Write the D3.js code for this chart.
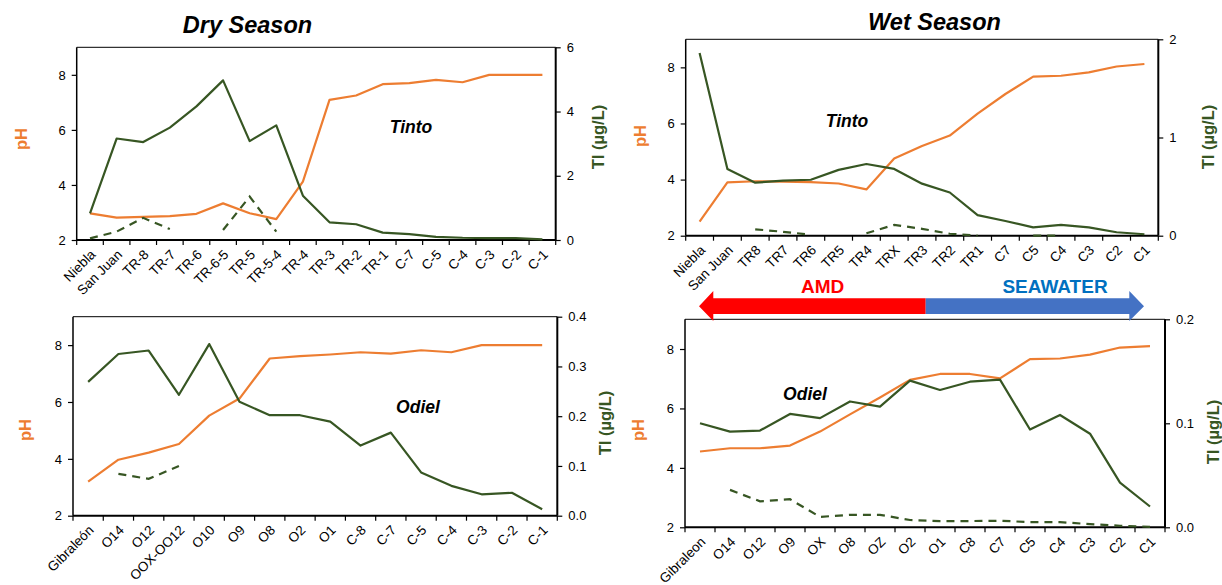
<!DOCTYPE html>
<html><head><meta charset="utf-8">
<script src="https://cdn.jsdelivr.net/npm/d3@7"></script>
<style>
body{margin:0;background:#fff;}
svg{display:block;font-family:"Liberation Sans",Arial,sans-serif;}
</style></head>
<body>
<svg id="c" width="1222" height="585"></svg>
<script>
// ---- Data ----
const dryTintoCats = ["Niebla","San Juan","TR-8","TR-7","TR-6","TR-6-5","TR-5","TR-5-4","TR-4","TR-3","TR-2","TR-1","C-7","C-5","C-4","C-3","C-2","C-1"];
const dryTintoPH   = [2.97,2.81,2.84,2.87,2.95,3.33,2.97,2.76,4.12,7.09,7.25,7.66,7.70,7.82,7.73,8.0,8.0,8.0];
const dryTintoTl   = [0.83,3.16,3.05,3.50,4.16,4.97,3.08,3.57,1.38,0.55,0.49,0.23,0.18,0.10,0.07,0.06,0.06,0.02];
const dryTintoTlD  = [0.05,0.26,0.69,0.34,null,0.31,1.35,0.26,null,null,null,null,null,null,null,null,null,null];

const wetTintoCats = ["Niebla","San Juan","TR8","TR7","TR6","TR5","TR4","TRX","TR3","TR2","TR1","C7","C5","C4","C3","C2","C1"];
const wetTintoPH   = [2.5,3.9,3.94,3.93,3.91,3.86,3.65,4.75,5.2,5.57,6.35,7.05,7.67,7.70,7.82,8.03,8.12];
const wetTintoTl   = [1.86,0.68,0.54,0.56,0.57,0.67,0.73,0.68,0.53,0.44,0.21,0.15,0.085,0.11,0.085,0.035,0.015];
const wetTintoTlD  = [null,null,0.065,0.04,0.01,null,0.025,0.11,0.07,0.02,0.0,null,0.0,0.0,null,null,null];

const dryOdielCats = ["Gibraleón","O14","O12","OOX-OO12","O10","O9","O8","O2","O1","C-8","C-7","C-5","C-4","C-3","C-2","C-1"];
const dryOdielPH   = [3.2,3.97,4.22,4.52,5.52,6.12,7.53,7.61,7.67,7.75,7.70,7.82,7.75,8.0,8.0,8.0];
const dryOdielTl   = [0.269,0.325,0.332,0.243,0.345,0.229,0.202,0.202,0.189,0.141,0.167,0.087,0.060,0.043,0.046,0.013];
const dryOdielTlD  = [null,0.084,0.074,0.100,null,null,null,null,null,null,null,null,null,null,null,null];

const wetOdielCats = ["Gibraleon","O14","O12","O9","OX","O8","OZ","O2","O1","C8","C7","C5","C4","C3","C2","C1"];
const wetOdielPH   = [4.55,4.66,4.66,4.75,5.22,5.80,6.37,6.96,7.16,7.16,7.01,7.66,7.68,7.81,8.05,8.10];
const wetOdielTl   = [0.100,0.092,0.093,0.109,0.105,0.121,0.116,0.141,0.132,0.140,0.142,0.094,0.108,0.090,0.043,0.020];
const wetOdielTlD  = [null,0.036,0.025,0.027,0.010,0.012,0.012,0.007,0.006,0.006,0.0063,0.005,0.005,0.003,0.0015,0.0005];

const phTicks = [2,4,6,8];
const tlTicksTop1 = [0,2,4,6];
const tlTicksTop2 = [0,1,2];
const tlTicksBot1 = [0,0.1,0.2,0.3,0.4];
const tlTicksBot2 = [0,0.1,0.2];

const titles = ["Dry Season","Wet Season"];
const rivers = ["Tinto","Odiel"];
const arrowLabels = ["AMD","SEAWATER"];

// ---- Styles ----
const ORANGE = "#ED7D31", GREEN = "#375623";
const svg = d3.select("#c");

function panel(o){
  const g = svg.append("g");
  const x = d3.scaleBand().domain(o.cats).range([o.left,o.right]);
  const yL = d3.scaleLinear().domain([2,9]).range([o.bottom,o.top]);
  const yR = d3.scaleLinear().domain(o.tlDomain).range([o.bottom,o.top]);

  g.append("line").attr("x1",o.left).attr("x2",o.right).attr("y1",o.top).attr("y2",o.top)
    .attr("stroke","#000").attr("stroke-width",1);

  const la = g.append("g").attr("transform",`translate(${o.left},0)`)
    .call(d3.axisLeft(yL).tickValues(phTicks).tickSize(5).tickPadding(6).tickFormat(d3.format("d")));
  la.select(".domain").remove();
  la.append("line").attr("x1",0).attr("x2",0).attr("y1",o.top).attr("y2",o.bottom).attr("stroke","#000").attr("stroke-width",1.5);
  la.selectAll("text").attr("font-size",13).attr("fill","#000").attr("font-family","Liberation Sans, Arial, sans-serif");
  la.selectAll(".tick line").attr("stroke","#000").attr("stroke-width",1.2);

  const ra = g.append("g").attr("transform",`translate(${o.right},0)`)
    .call(d3.axisRight(yR).tickValues(o.tlTicks).tickSize(5).tickPadding(6).tickFormat(d3.format(o.tlFmt)));
  ra.select(".domain").remove();
  ra.append("line").attr("x1",0).attr("x2",0).attr("y1",o.top).attr("y2",o.bottom).attr("stroke","#000").attr("stroke-width",2);
  ra.selectAll("text").attr("font-size",13).attr("fill","#000").attr("font-family","Liberation Sans, Arial, sans-serif");
  ra.selectAll(".tick line").attr("stroke","#000").attr("stroke-width",1.2);

  const ba = g.append("g").attr("transform",`translate(0,${o.bottom})`);
  ba.append("line").attr("x1",o.left).attr("x2",o.right).attr("y1",0).attr("y2",0).attr("stroke","#000").attr("stroke-width",2);
  const bounds = o.cats.map(c=>x(c)).concat([o.right]);
  ba.selectAll("line.tk").data(bounds).join("line").attr("class","tk")
    .attr("x1",d=>d).attr("x2",d=>d).attr("y1",0).attr("y2",5).attr("stroke","#000").attr("stroke-width",1.2);
  ba.selectAll("text").data(o.cats).join("text")
    .attr("transform",d=>`translate(${x(d)+x.bandwidth()/2+3},${12}) rotate(-45)`)
    .attr("text-anchor","end").attr("dy","0.35em").attr("font-size",13.5).attr("fill","#000")
    .text(d=>d);

  const cx = d=>x(d)+x.bandwidth()/2;
  const lineL = d3.line().defined(d=>d[1]!=null).x(d=>cx(d[0])).y(d=>yL(d[1]));
  const lineR = d3.line().defined(d=>d[1]!=null).x(d=>cx(d[0])).y(d=>yR(d[1]));

  g.append("path").datum(o.cats.map((c,i)=>[c,o.ph[i]])).attr("d",lineL)
    .attr("fill","none").attr("stroke",ORANGE).attr("stroke-width",2.2).attr("stroke-linejoin","round");
  g.append("path").datum(o.cats.map((c,i)=>[c,o.tl[i]])).attr("d",lineR)
    .attr("fill","none").attr("stroke",GREEN).attr("stroke-width",2.2).attr("stroke-linejoin","round");
  g.append("path").datum(o.cats.map((c,i)=>[c,o.tlD[i]])).attr("d",lineR)
    .attr("fill","none").attr("stroke",GREEN).attr("stroke-width",2.2).attr("stroke-dasharray","8,6");

  g.append("text").attr("transform",`translate(${o.phX},${o.phY}) rotate(-90)`)
    .attr("text-anchor","middle").attr("dy","0.35em").attr("font-weight","bold").attr("font-size",16.5)
    .attr("fill",ORANGE).text("pH");
  g.append("text").attr("transform",`translate(${o.tlX},${o.tlY}) rotate(-90)`)
    .attr("text-anchor","middle").attr("dy","0.35em").attr("font-weight","bold").attr("font-size",16.5)
    .attr("fill",GREEN).text("Tl (µg/L)");

  g.append("text").attr("x",o.rx).attr("y",o.ry).attr("text-anchor","middle").attr("dy","0.35em")
    .attr("font-weight","bold").attr("font-style","italic").attr("font-size",17.5).attr("fill","#000").text(o.river);
}

panel({cats:dryTintoCats,ph:dryTintoPH,tl:dryTintoTl,tlD:dryTintoTlD,left:76.7,right:555.7,top:47.3,bottom:240,
  tlDomain:[0,6],tlTicks:tlTicksTop1,tlFmt:"d",phX:21,phY:139,tlX:598,tlY:137,river:rivers[0],rx:411,ry:127});
panel({cats:wetTintoCats,ph:wetTintoPH,tl:wetTintoTl,tlD:wetTintoTlD,left:685.7,right:1158.3,top:39.3,bottom:235.7,
  tlDomain:[0,2],tlTicks:tlTicksTop2,tlFmt:"d",phX:640,phY:136,tlX:1208,tlY:137,river:rivers[0],rx:847,ry:121});
panel({cats:dryOdielCats,ph:dryOdielPH,tl:dryOdielTl,tlD:dryOdielTlD,left:73,right:557.3,top:316.7,bottom:515.7,
  tlDomain:[0,0.4],tlTicks:tlTicksBot1,tlFmt:".1f",phX:25,phY:430,tlX:605,tlY:423,river:rivers[1],rx:418,ry:407});
panel({cats:wetOdielCats,ph:wetOdielPH,tl:wetOdielTl,tlD:wetOdielTlD,left:685,right:1165,top:319.3,bottom:527.3,
  tlDomain:[0,0.2],tlTicks:tlTicksBot2,tlFmt:".1f",phX:638,phY:430,tlX:1213,tlY:432,river:rivers[1],rx:805,ry:394});

svg.append("text").attr("x",247.5).attr("y",33).attr("text-anchor","middle").attr("font-weight","bold")
  .attr("font-style","italic").attr("font-size",23.5).attr("fill","#000").text(titles[0]);
svg.append("text").attr("x",934.5).attr("y",30).attr("text-anchor","middle").attr("font-weight","bold")
  .attr("font-style","italic").attr("font-size",23.5).attr("fill","#000").text(titles[1]);

const ax = d3.scaleLinear().domain([0,1]).range([699,1144]);
const mid = 925.7, yTop = 298.3, yBot = 314, hTop = 291, hBot = 321, yMid = 306.3;
svg.append("path").attr("fill","#FF0000")
  .attr("d",`M${ax(0)},${yMid} L713.3,${hTop} L713.3,${yTop} L${mid},${yTop} L${mid},${yBot} L713.3,${yBot} L713.3,${hBot} Z`);
svg.append("path").attr("fill","#4472C4")
  .attr("d",`M${ax(1)},${yMid} L1129.3,${hTop} L1129.3,${yTop} L${mid},${yTop} L${mid},${yBot} L1129.3,${yBot} L1129.3,${hBot} Z`);
svg.append("text").attr("x",822.7).attr("y",293).attr("text-anchor","middle").attr("font-weight","bold")
  .attr("font-size",19).attr("fill","#FF0000").text(arrowLabels[0]);
svg.append("text").attr("x",1055).attr("y",293).attr("text-anchor","middle").attr("font-weight","bold")
  .attr("font-size",19).attr("fill","#0070C0").text(arrowLabels[1]);
</script>
</body></html>
